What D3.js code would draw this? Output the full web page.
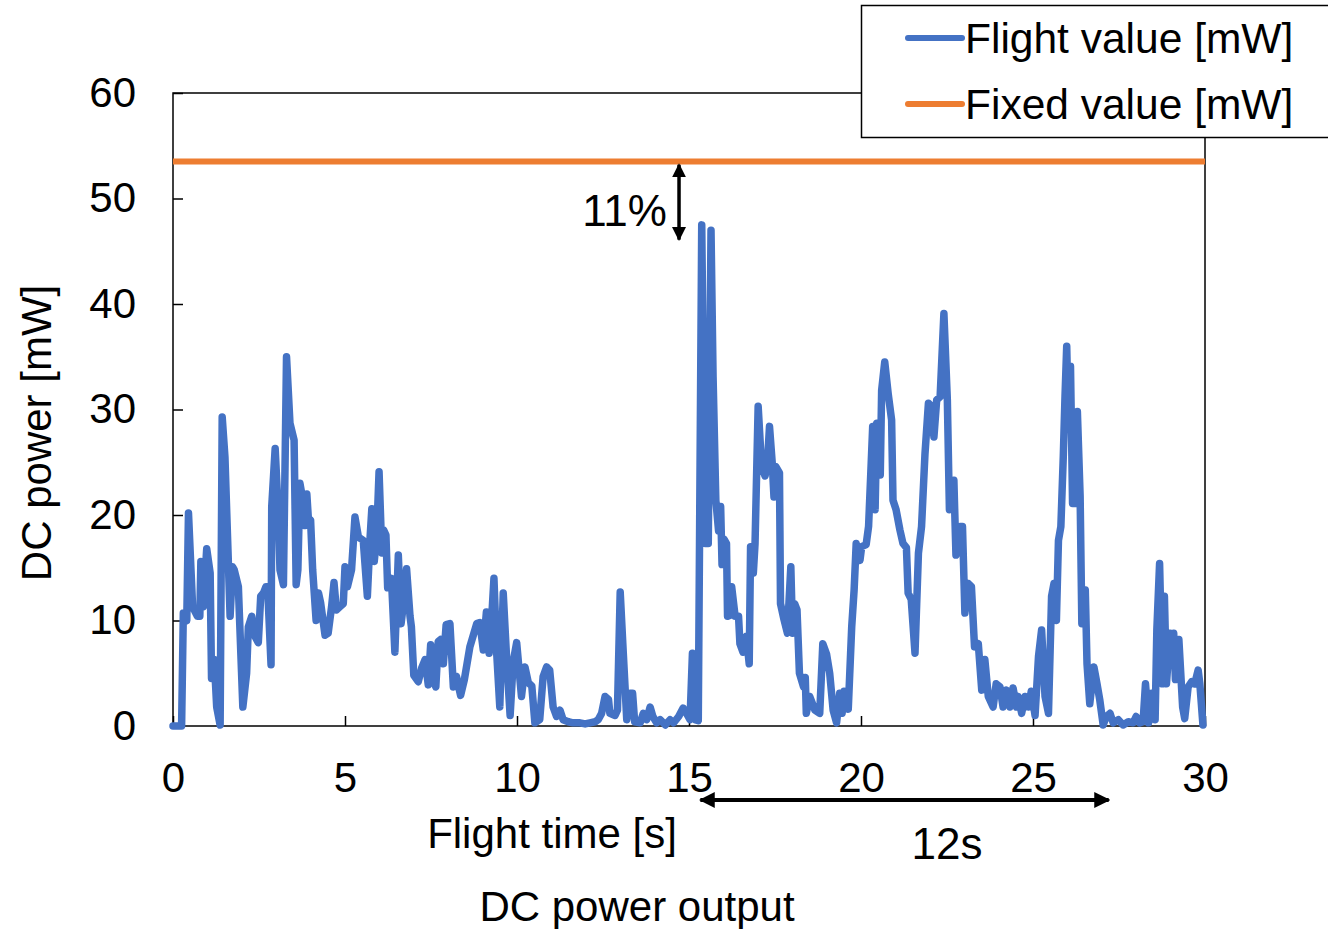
<!DOCTYPE html>
<html>
<head>
<meta charset="utf-8">
<script src="https://cdn.jsdelivr.net/npm/d3@7"></script>
<style>
  body { margin: 0; background: #fff; }
  svg { display: block; font-family: "Liberation Sans", Arial, sans-serif; }
</style>
</head>
<body>
<div id="chart"></div>
<script>
// flight record
const flightTime = [
  0.0, 0.25, 0.30, 0.40, 0.45, 0.57, 0.71, 0.78, 0.81, 0.85, 0.88, 0.98, 1.08, 1.12, 1.20, 1.27, 1.37, 1.43, 1.51, 1.66,
  1.73, 1.78, 1.90, 2.03, 2.14, 2.19, 2.29, 2.38, 2.48, 2.55, 2.63, 2.70, 2.75, 2.85, 2.87, 2.97, 3.06, 3.11, 3.21, 3.30,
  3.40, 3.52, 3.58, 3.63, 3.69, 3.77, 3.84, 3.89, 3.94, 4.00, 4.06, 4.16, 4.23, 4.29, 4.42, 4.51, 4.61, 4.68, 4.75, 4.85,
  4.95, 5.00, 5.07, 5.19, 5.29, 5.39, 5.53, 5.65, 5.73, 5.78, 5.85, 5.92, 5.99, 6.07, 6.12, 6.19, 6.24, 6.30, 6.35, 6.45,
  6.55, 6.63, 6.69, 6.79, 6.89, 6.93, 7.00, 7.13, 7.23, 7.33, 7.42, 7.49, 7.56, 7.64, 7.71, 7.78, 7.86, 7.94, 8.05, 8.15,
  8.24, 8.36, 8.47, 8.63, 8.83, 8.92, 9.02, 9.11, 9.19, 9.25, 9.33, 9.41, 9.50, 9.60, 9.70, 9.80, 9.89, 9.99, 10.13, 10.23,
  10.33, 10.43, 10.52, 10.66, 10.76, 10.86, 10.95, 11.05, 11.15, 11.25, 11.34, 11.49, 11.63, 11.83, 11.98, 12.12, 12.27, 12.36, 12.46, 12.56,
  12.66, 12.70, 12.85, 12.92, 13.00, 13.09, 13.19, 13.29, 13.36, 13.42, 13.58, 13.67, 13.77, 13.87, 13.95, 14.06, 14.16, 14.31, 14.45, 14.55,
  14.70, 14.83, 14.93, 15.03, 15.10, 15.17, 15.27, 15.37, 15.47, 15.56, 15.64, 15.70, 15.78, 15.86, 15.92, 15.96, 16.02, 16.09, 16.12, 16.19,
  16.24, 16.34, 16.44, 16.48, 16.57, 16.67, 16.75, 16.79, 16.87, 16.92, 17.01, 17.11, 17.21, 17.28, 17.34, 17.42, 17.47, 17.52, 17.63, 17.66,
  17.76, 17.86, 17.96, 18.01, 18.07, 18.14, 18.21, 18.33, 18.38, 18.41, 18.51, 18.66, 18.80, 18.89, 19.00, 19.09, 19.19, 19.29, 19.38, 19.45,
  19.51, 19.63, 19.73, 19.80, 19.86, 19.97, 20.02, 20.15, 20.22, 20.28, 20.34, 20.41, 20.46, 20.53, 20.56, 20.60, 20.69, 20.79, 20.89, 20.93,
  21.02, 21.13, 21.22, 21.32, 21.37, 21.46, 21.57, 21.67, 21.76, 21.86, 21.96, 22.05, 22.12, 22.20, 22.30, 22.41, 22.51, 22.57, 22.65, 22.70,
  22.76, 22.88, 22.95, 23.02, 23.12, 23.21, 23.30, 23.41, 23.51, 23.60, 23.70, 23.84, 23.93, 24.04, 24.13, 24.23, 24.33, 24.42, 24.52, 24.57,
  24.67, 24.77, 24.87, 24.95, 25.06, 25.16, 25.25, 25.35, 25.45, 25.54, 25.61, 25.68, 25.74, 25.81, 25.88, 25.93, 25.98, 26.03, 26.09, 26.15,
  26.22, 26.29, 26.37, 26.42, 26.52, 26.57, 26.65, 26.77, 26.86, 26.94, 27.04, 27.13, 27.24, 27.33, 27.48, 27.62, 27.77, 27.91, 28.00, 28.10,
  28.20, 28.27, 28.36, 28.45, 28.55, 28.60, 28.68, 28.76, 28.82, 28.88, 28.98, 29.02, 29.09, 29.14, 29.24, 29.35, 29.41, 29.51, 29.61, 29.70,
  29.80, 29.85, 29.94
];
const flightPower = [
  0, 0, 10.7, 10.0, 20.2, 11.3, 10.4, 10.4, 15.6, 14.8, 11.3, 16.8, 14.5, 4.5, 6.3, 1.8, 0.1, 29.3, 25.5, 10.4,
  15.1, 14.8, 13.2, 1.8, 5.0, 9.4, 10.4, 8.5, 7.9, 12.3, 12.6, 13.2, 13.2, 5.8, 20.8, 26.3, 20.2, 14.8, 13.4, 35.0,
  28.7, 27.1, 13.4, 14.8, 23.0, 21.5, 19.0, 22.0, 19.4, 19.5, 14.8, 10.0, 12.6, 11.7, 8.6, 8.8, 11.3, 13.6, 11.0, 11.3,
  11.6, 15.1, 13.2, 14.8, 19.8, 17.9, 17.6, 12.3, 17.9, 20.6, 15.6, 17.9, 24.1, 16.4, 18.6, 18.1, 13.1, 13.2, 14.0, 7.0,
  16.2, 9.7, 11.3, 14.9, 10.4, 9.4, 4.8, 4.2, 5.5, 6.3, 3.9, 7.7, 4.4, 3.7, 8.0, 8.2, 5.9, 9.6, 9.7, 3.7,
  4.7, 2.9, 4.4, 7.5, 9.7, 9.8, 7.2, 10.8, 6.9, 9.4, 14.0, 6.9, 1.8, 12.6, 6.3, 1.0, 6.1, 7.9, 2.8, 5.6,
  4.1, 3.8, 0.3, 0.6, 4.7, 5.6, 5.3, 1.8, 0.9, 1.5, 0.6, 0.4, 0.3, 0.3, 0.2, 0.3, 0.4, 0.6, 1.2, 2.8,
  2.5, 1.2, 1.0, 1.5, 12.7, 6.9, 0.6, 3.1, 3.1, 0.4, 0.3, 1.2, 0.6, 1.8, 0.9, 0.3, 0.6, 0.1, 0.6, 0.3,
  0.9, 1.7, 1.2, 0.6, 6.9, 0.6, 0.5, 47.5, 17.3, 17.3, 47.0, 33.1, 21.4, 18.5, 20.8, 15.3, 17.7, 17.3, 10.4, 10.5,
  13.2, 10.4, 10.4, 7.8, 7.0, 8.5, 5.9, 17.0, 14.5, 17.3, 30.3, 24.6, 23.7, 24.9, 28.4, 24.9, 21.7, 24.6, 24.0, 11.6,
  10.1, 8.8, 15.1, 8.8, 11.6, 11.0, 5.0, 3.7, 4.6, 1.2, 2.8, 1.5, 1.2, 7.8, 6.8, 5.0, 1.5, 0.3, 3.1, 1.2,
  3.3, 1.6, 9.4, 12.9, 17.3, 15.7, 17.0, 17.2, 18.9, 23.6, 28.4, 20.5, 28.7, 28.7, 23.8, 31.8, 34.5, 31.5, 29.0, 21.4,
  20.5, 18.6, 17.3, 16.9, 12.6, 12.0, 6.9, 16.4, 18.9, 25.8, 30.6, 30.3, 27.4, 30.9, 31.2, 39.1, 30.9, 20.5, 21.4, 23.3,
  16.2, 18.9, 18.9, 10.7, 13.5, 13.2, 7.5, 7.8, 3.4, 6.3, 2.8, 1.8, 4.0, 3.7, 1.8, 3.4, 1.8, 3.6, 1.8, 2.8,
  1.2, 2.8, 1.8, 3.3, 1.0, 6.6, 9.1, 2.8, 1.2, 12.3, 13.5, 10.0, 17.6, 18.9, 25.5, 31.2, 36.0, 28.7, 34.1, 21.1,
  21.1, 29.8, 21.8, 9.7, 12.9, 5.9, 2.1, 5.6, 4.0, 2.5, 0.1, 0.9, 1.2, 0.3, 0.6, 0.1, 0.4, 0.3, 0.9, 0.3,
  0.4, 4.0, 0.3, 3.1, 0.6, 9.1, 15.4, 4.0, 12.3, 4.0, 8.8, 5.9, 8.8, 4.4, 8.2, 1.8, 0.7, 3.7, 4.2, 4.0,
  5.3, 4.0, 0.1
];
const fixedValue = 53.5;
const xTicks = [0, 5, 10, 15, 20, 25, 30];
const yTicks = [0, 10, 20, 30, 40, 50, 60];
const seriesNames = ['Flight value [mW]', 'Fixed value [mW]'];
const seriesColors = ['#4472C4', '#ED7D31'];

const W = 1328, H = 929;
const margin = { top: 93, right: 123, bottom: 203, left: 173 };
const width = W - margin.left - margin.right;
const height = H - margin.top - margin.bottom;
const fontSize = 42;

const svg = d3.select('#chart').append('svg')
  .attr('width', W)
  .attr('height', H);

// arrowhead marker
const defs = svg.append('defs');
defs.append('marker')
  .attr('id', 'head')
  .attr('viewBox', '0 0 10 10')
  .attr('refX', 9).attr('refY', 5)
  .attr('markerWidth', 4).attr('markerHeight', 4)
  .attr('markerUnits', 'strokeWidth')
  .attr('orient', 'auto-start-reverse')
  .append('path')
  .attr('d', 'M0,0 L10,5 L0,10 Z')
  .attr('fill', '#000');

const g = svg.append('g')
  .attr('transform', `translate(${margin.left},${margin.top})`);

const x = d3.scaleLinear().domain([0, 30]).range([0, width]);
const y = d3.scaleLinear().domain([0, 60]).range([height, 0]);

// axes with inward ticks
const xAxis = g.append('g')
  .attr('transform', `translate(0,${height})`)
  .call(d3.axisBottom(x).tickValues(xTicks).tickSizeInner(-10).tickSizeOuter(0).tickPadding(36));
const yAxis = g.append('g')
  .call(d3.axisLeft(y).tickValues(yTicks).tickSizeInner(-10).tickSizeOuter(0).tickPadding(37));

[xAxis, yAxis].forEach(a => {
  a.select('.domain').remove();
  a.selectAll('line').attr('stroke', '#000').attr('stroke-width', 1.5);
  a.selectAll('text')
    .attr('fill', '#000')
    .style('font-size', fontSize + 'px')
    .style('font-family', '"Liberation Sans", Arial, sans-serif');
});

// plot frame
g.append('rect')
  .attr('width', width)
  .attr('height', height)
  .attr('fill', 'none')
  .attr('stroke', '#000')
  .attr('stroke-width', 1.5);

// fixed value line
g.append('line')
  .attr('x1', x(0)).attr('x2', x(30))
  .attr('y1', y(fixedValue)).attr('y2', y(fixedValue))
  .attr('stroke', seriesColors[1])
  .attr('stroke-width', 6);

// flight series
const flightData = flightTime.map((t, i) => ({ t: t, v: flightPower[i] }));
const line = d3.line().x(d => x(d.t)).y(d => y(d.v));
g.append('path')
  .datum(flightData)
  .attr('d', line)
  .attr('fill', 'none')
  .attr('stroke', seriesColors[0])
  .attr('stroke-width', 7.5)
  .attr('stroke-linejoin', 'round')
  .attr('stroke-linecap', 'round');

// 11% gap annotation
g.append('line')
  .attr('x1', x(14.71)).attr('x2', x(14.71))
  .attr('y1', y(53.2)).attr('y2', y(46.1))
  .attr('stroke', '#000')
  .attr('stroke-width', 3.5)
  .attr('marker-start', 'url(#head)')
  .attr('marker-end', 'url(#head)');
g.append('text')
  .attr('x', x(14.36)).attr('y', y(47.4))
  .attr('text-anchor', 'end')
  .style('font-size', '44px')
  .text('11%');

// 12s span annotation
g.append('line')
  .attr('x1', x(15.33)).attr('x2', x(27.2))
  .attr('y1', height + 74).attr('y2', height + 74)
  .attr('stroke', '#000')
  .attr('stroke-width', 4)
  .attr('marker-start', 'url(#head)')
  .attr('marker-end', 'url(#head)');
g.append('text')
  .attr('x', x(22.5)).attr('y', height + 133)
  .attr('text-anchor', 'middle')
  .style('font-size', '44px')
  .text('12s');

// axis titles
svg.append('text')
  .attr('x', 552).attr('y', 848)
  .attr('text-anchor', 'middle')
  .style('font-size', fontSize + 'px')
  .text('Flight time [s]');
svg.append('text')
  .attr('transform', 'translate(51,433) rotate(-90)')
  .attr('text-anchor', 'middle')
  .style('font-size', fontSize + 'px')
  .text('DC power [mW]');
svg.append('text')
  .attr('x', 637).attr('y', 921)
  .attr('text-anchor', 'middle')
  .style('font-size', fontSize + 'px')
  .text('DC power output');

// legend
const legend = svg.append('g').attr('transform', 'translate(861,5)');
legend.append('rect')
  .attr('x', 0.5).attr('y', 0.5)
  .attr('width', 480).attr('height', 132)
  .attr('fill', '#fff')
  .attr('stroke', '#000')
  .attr('stroke-width', 1.5);
seriesNames.forEach((name, i) => {
  const cy = 33 + i * 66;
  legend.append('line')
    .attr('x1', 47).attr('x2', 101)
    .attr('y1', cy).attr('y2', cy)
    .attr('stroke', seriesColors[i])
    .attr('stroke-width', 6)
    .attr('stroke-linecap', 'round');
  legend.append('text')
    .attr('x', 104).attr('y', cy + 15)
    .style('font-size', '42.5px')
    .text(name);
});
</script>
</body>
</html>
